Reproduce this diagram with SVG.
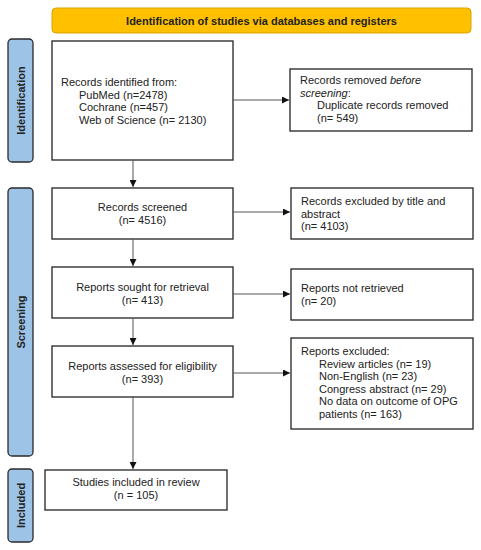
<svg xmlns="http://www.w3.org/2000/svg" width="481" height="550" viewBox="0 0 481 550">
<defs>
<style>
text{font-family:"Liberation Sans",Arial,sans-serif;font-size:11px;fill:#222}
.box{fill:#fff;stroke:#222;stroke-width:1.3}
.bar{fill:#9DC3E6;stroke:#2b2b2b;stroke-width:1.3}
.hdr{fill:#FFC000;stroke:#D9A300;stroke-width:1}
.b{font-weight:bold}
.c{text-anchor:middle}
.edge{stroke:#555;stroke-width:1;fill:none;marker-end:url(#ah)}
</style>
<marker id="ah" viewBox="0 0 10 10" refX="10" refY="5" markerWidth="7" markerHeight="7" markerUnits="userSpaceOnUse" orient="auto">
<path d="M0,0 L10,5 L0,10 z" fill="#111"/>
</marker>
</defs>
<g id="header">
<rect class="hdr" x="52" y="8" width="419" height="25" rx="4"/>
<text class="b c" x="261.5" y="24.5">Identification of studies via databases and registers</text>
</g>
<g id="bar-identification">
<rect class="bar" x="8" y="39" width="25" height="123" rx="4"/>
<text class="b c" transform="translate(24.5,100.5) rotate(-90)">Identification</text>
</g>
<g id="bar-screening">
<rect class="bar" x="8" y="188" width="25" height="268" rx="4"/>
<text class="b c" transform="translate(24.5,322) rotate(-90)">Screening</text>
</g>
<g id="bar-included">
<rect class="bar" x="8" y="469" width="25" height="73" rx="4"/>
<text class="b c" transform="translate(24.5,505.5) rotate(-90)">Included</text>
</g>
<g id="records-identified">
<rect class="box" x="52" y="41" width="181" height="119"/>
<text x="61" y="86">Records identified from:</text>
<text x="79" y="98.5">PubMed (n=2478)</text>
<text x="79" y="111">Cochrane (n=457)</text>
<text x="79" y="123.5">Web of Science (n= 2130)</text>
</g>
<g id="records-removed">
<rect class="box" x="290" y="69" width="182" height="62"/>
<text x="300" y="84">Records removed <tspan font-style="italic">before</tspan></text>
<text x="300" y="96.5"><tspan font-style="italic">screening</tspan>:</text>
<text x="317" y="109">Duplicate records removed</text>
<text x="317" y="121.5">(n= 549)</text>
</g>
<g id="records-screened">
<rect class="box" x="52" y="188" width="181" height="51"/>
<text class="c" x="142.5" y="211">Records screened</text>
<text class="c" x="142.5" y="224">(n= 4516)</text>
</g>
<g id="records-excluded">
<rect class="box" x="291" y="188" width="182" height="51"/>
<text x="301" y="205">Records excluded by title and</text>
<text x="301" y="217.5">abstract</text>
<text x="301" y="230">(n= 4103)</text>
</g>
<g id="reports-sought">
<rect class="box" x="52" y="267" width="181" height="51"/>
<text class="c" x="142.5" y="291">Reports sought for retrieval</text>
<text class="c" x="142.5" y="303.5">(n= 413)</text>
</g>
<g id="reports-not-retrieved">
<rect class="box" x="291" y="269" width="182" height="51"/>
<text x="301" y="292">Reports not retrieved</text>
<text x="301" y="304.5">(n= 20)</text>
</g>
<g id="reports-assessed">
<rect class="box" x="52" y="346" width="181" height="51"/>
<text class="c" x="142.5" y="369.5">Reports assessed for eligibility</text>
<text class="c" x="142.5" y="382.5">(n= 393)</text>
</g>
<g id="reports-excluded">
<rect class="box" x="291" y="338" width="182" height="91"/>
<text x="301" y="355">Reports excluded:</text>
<text x="319" y="367.5">Review articles (n= 19)</text>
<text x="319" y="380">Non-English (n= 23)</text>
<text x="319" y="392.5">Congress abstract (n= 29)</text>
<text x="319" y="405">No data on outcome of OPG</text>
<text x="319" y="417.5">patients (n= 163)</text>
</g>
<g id="studies-included">
<rect class="box" x="45" y="470" width="182" height="40"/>
<text class="c" x="136" y="486">Studies included in review</text>
<text class="c" x="136" y="499">(n = 105)</text>
</g>
<g id="connectors">
<line class="edge" x1="233" y1="100" x2="289" y2="100"/>
<line class="edge" x1="133" y1="160" x2="133" y2="187"/>
<line class="edge" x1="233" y1="212" x2="290" y2="212"/>
<line class="edge" x1="133" y1="239" x2="133" y2="266"/>
<line class="edge" x1="233" y1="294" x2="290" y2="294"/>
<line class="edge" x1="133" y1="318" x2="133" y2="345"/>
<line class="edge" x1="233" y1="373" x2="290" y2="373"/>
<line class="edge" x1="133" y1="397" x2="133" y2="469"/>
</g>
</svg>
